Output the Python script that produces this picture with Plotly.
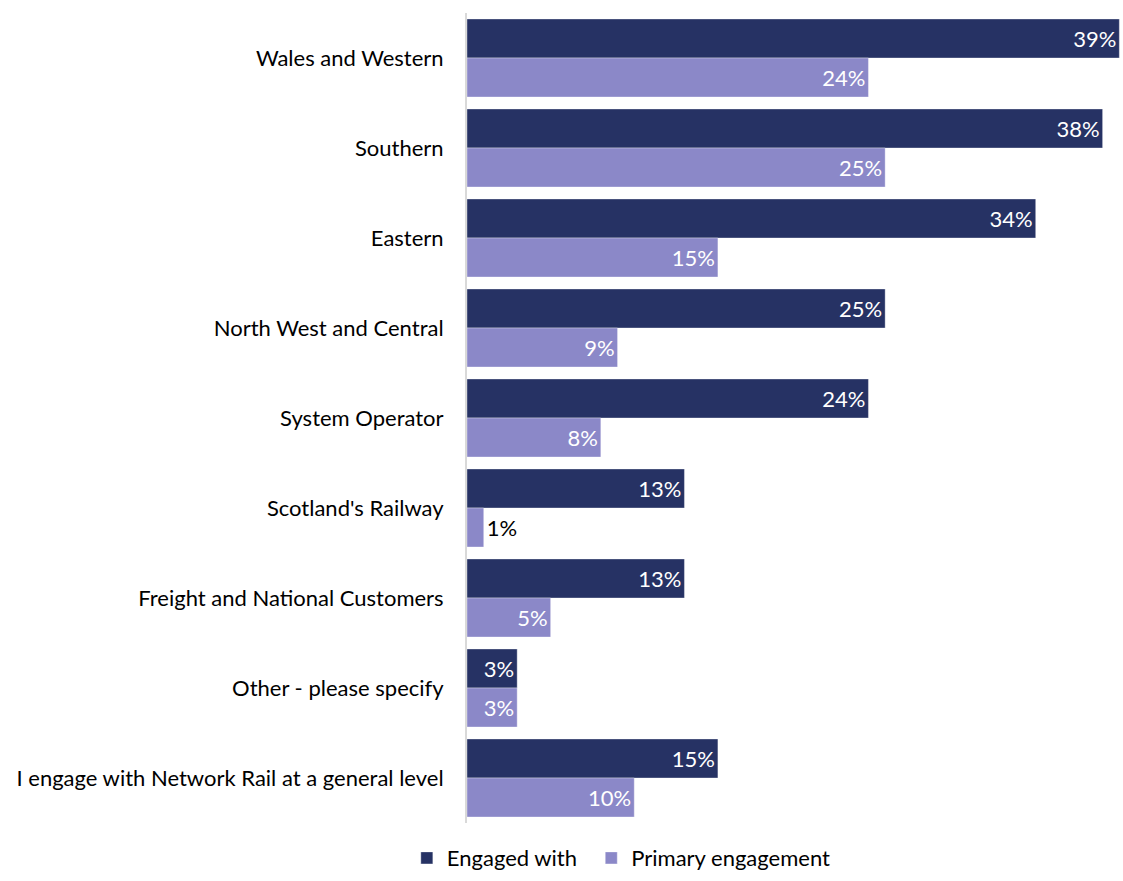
import plotly.graph_objects as go

categories = [
    "Wales and Western",
    "Southern",
    "Eastern",
    "North West and Central",
    "System Operator",
    "Scotland's Railway",
    "Freight and National Customers",
    "Other - please specify",
    "I engage with Network Rail at a general level",
]
engaged_with = [39, 38, 34, 25, 24, 13, 13, 3, 15]
primary_engagement = [24, 25, 15, 9, 8, 1, 5, 3, 10]

DARK = "#263264"
LIGHT = "#8B88C8"
FONT = "Lato"
SIZE = 22

fig = go.Figure()
for name, vals, color, leg in [
    ("Engaged with", engaged_with, DARK, "legend"),
    ("Primary engagement", primary_engagement, LIGHT, "legend2"),
]:
    fig.add_trace(go.Bar(
        name=name,
        y=categories,
        x=vals,
        orientation="h",
        legend=leg,
        marker=dict(color=color, line=dict(color="rgba(255,255,255,0.35)", width=1)),
        texttemplate="%{x}%",
        textposition="auto",
        insidetextanchor="end",
        constraintext="none",
        insidetextfont=dict(color="white", size=SIZE, family=FONT),
        outsidetextfont=dict(color="black", size=SIZE, family=FONT),
        cliponaxis=False,
    ))

legend_common = dict(
    orientation="h",
    xref="paper",
    xanchor="left",
    yref="container",
    y=0.026,
    yanchor="middle",
    font=dict(size=SIZE, family=FONT),
    bgcolor="rgba(0,0,0,0)",
)

fig.update_layout(
    width=1123,
    height=881,
    margin=dict(l=467, r=2, t=13, b=58, autoexpand=False),
    barmode="group",
    bargap=0.133,
    bargroupgap=0,
    plot_bgcolor="white",
    paper_bgcolor="white",
    font=dict(family=FONT, size=SIZE, color="black"),
    showlegend=True,
    legend=dict(x=-0.092, **legend_common),
    legend2=dict(x=0.19, **legend_common),
)
fig.update_xaxes(range=[0, 39.1], showticklabels=False, showgrid=False,
                 zeroline=False, showline=False)
fig.update_yaxes(autorange="reversed", showgrid=False, showline=True,
                 linecolor="#d9d9d9", linewidth=2, ticks="", ticklabelstandoff=17)

fig.write_html("out.html")
